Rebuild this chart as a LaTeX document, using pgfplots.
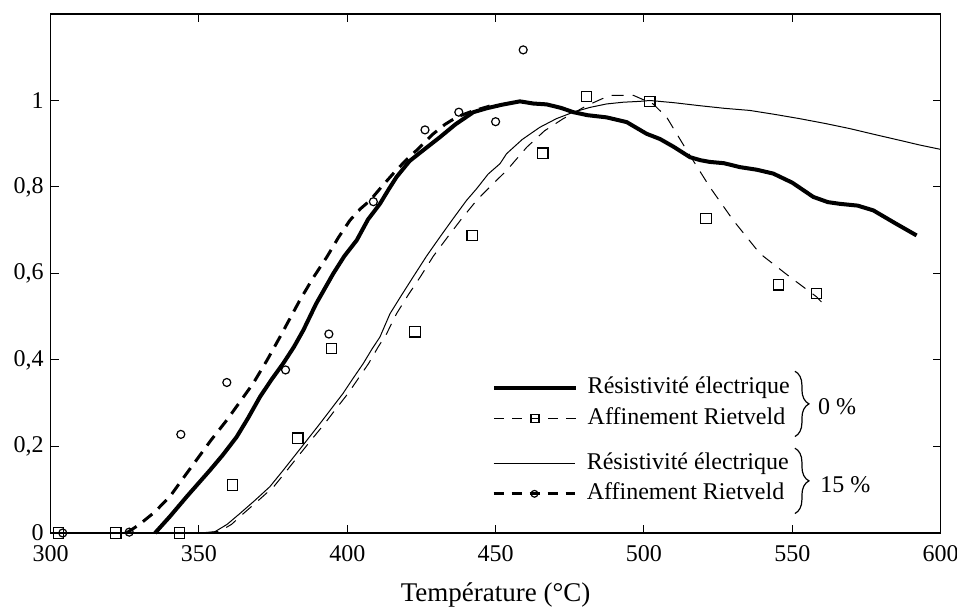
\documentclass[border=0pt]{standalone}
\usepackage{pgfplots}
\pgfplotsset{compat=1.18}
\usepackage{fontspec}
\setmainfont{Liberation Serif}
\usetikzlibrary{decorations.pathreplacing}

\pgfplotstableread{
T y
335.2 0
340.2 0.038
346 0.085
353.7 0.145
358 0.18
362.7 0.222
366.5 0.265
370.6 0.315
374.5 0.355
378.4 0.392
382 0.43
385.2 0.469
389.5 0.53
395.3 0.600
399 0.64
403.2 0.677
407 0.725
411 0.761
414 0.795
416.6 0.823
421 0.86
425.6 0.885
431.2 0.915
436.5 0.945
442.5 0.973
447 0.982
452 0.99
458.2 0.998
462.7 0.993
467.2 0.991
472 0.983
476.2 0.973
481 0.966
487.4 0.961
494.2 0.95
500.9 0.923
505.4 0.911
510 0.893
515.5 0.869
519 0.862
522.2 0.858
527 0.855
532.3 0.846
538 0.840
543.6 0.831
550 0.81
557.1 0.777
562 0.765
566.1 0.761
572 0.757
577.3 0.746
585 0.715
591.9 0.688
}\resZero

\pgfplotstableread{
T y
325.6 0
330 0.02
335 0.048
340.2 0.084
344.5 0.125
349.2 0.169
354 0.214
359.4 0.261
364 0.305
368.3 0.346
373 0.40
377.3 0.453
381 0.5
384 0.538
388.5 0.59
393.1 0.638
397 0.683
400.9 0.723
404.5 0.75
407.7 0.769
411.5 0.8
415.5 0.831
419.5 0.86
423.4 0.885
429 0.923
433 0.945
437 0.962
442 0.975
448 0.987
}\fitQuinze

\pgfplotstableread{
T y
350.4 0
355.4 0.003
359.5 0.02
363.8 0.045
368.8 0.075
373.9 0.107
378.4 0.145
382.9 0.184
386.8 0.218
390.8 0.253
394.7 0.288
398.6 0.323
402 0.358
405.4 0.392
408.3 0.425
411 0.453
414.4 0.507
418.3 0.55
422.2 0.592
426.7 0.64
431.2 0.684
435.7 0.727
440.2 0.769
443.6 0.796
447.5 0.83
451.5 0.854
453.7 0.877
459 0.91
464.9 0.938
470.5 0.958
476.2 0.973
481.8 0.984
487.4 0.992
493 0.996
498.6 0.998
502 1.0
510 0.995
518.8 0.988
527 0.982
535.7 0.977
544 0.968
552.5 0.958
561 0.947
569.4 0.935
578 0.921
586.2 0.908
593 0.897
600 0.887
}\resQuinze

\pgfplotstableread{
T y
352.5 0
357 0.004
361 0.02
365 0.045
370 0.075
375.2 0.107
379.7 0.145
384.2 0.184
388.2 0.218
392.4 0.253
396.3 0.288
400.3 0.323
403.8 0.358
407.2 0.392
410.4 0.43
413.2 0.46
416.6 0.507
420.5 0.55
424.6 0.592
429 0.64
433.8 0.684
438.6 0.727
443.6 0.769
449.2 0.808
453.7 0.838
460.5 0.892
466.5 0.93
472.8 0.958
480.7 0.988
488.5 1.012
496.4 1.012
503.1 0.992
507.7 0.961
514.4 0.885
522.2 0.800
530.1 0.723
539.1 0.646
549.2 0.592
558.2 0.546
560.4 0.530
}\fitZero

\pgfplotstableread{
T y
302.6 0
322 0
343.4 0
361.3 0.111
383.3 0.219
394.7 0.427
422.8 0.465
442.1 0.688
465.9 0.878
480.7 1.009
502 0.998
520.9 0.727
545.3 0.574
558.2 0.554
}\ptsZero

\pgfplotstableread{
T y
304.1 0
326.5 0.002
343.9 0.228
359.4 0.348
379.2 0.377
393.8 0.460
408.8 0.766
426.2 0.932
437.6 0.973
450 0.951
459.3 1.117
}\ptsQuinze

\pgfplotsset{
  frame/.style={
    at={(25.3pt,38.5pt)}, anchor=south west,
    scale only axis, width=445pt, height=259.5pt,
    xmin=300, xmax=600, ymin=0, ymax=1.2,
  },
  mylegend/.style={
    legend style={draw=none, fill=none, inner sep=0pt, anchor=west,
      font=\fontsize{12}{14}\selectfont,
      row sep=4.3pt, column sep=5pt,
      nodes={inner sep=0pt, text height=8.5pt, text depth=2.5pt}},
    legend cell align=left,
    legend image code/.code={\draw[mark repeat=2,mark phase=2,##1] plot coordinates {(0pt,0pt) (20.4pt,0pt) (40.8pt,0pt)};},
  },
  thickres/.style={black, line width=2pt, no marks},
  thinres/.style={black, line width=0.5pt, no marks},
  thickfit/.style={black, line width=1.5pt, dash pattern=on 6pt off 4pt, no marks},
  thinfit/.style={black, line width=0.5pt, dash pattern=on 6pt off 4.5pt, no marks},
}

\begin{document}
\begin{tikzpicture}
\begin{axis}[
  frame, mylegend,
  legend style={at={(axis cs:448.7,0.301)}},
  xtick={300,350,...,600}, ytick={0,0.2,0.4,0.6,0.8,1},
  tick align=inside,
  major tick length=4pt,
  tick style={black, line width=0.5pt},
  axis line style={line width=0.6pt},
  /pgf/number format/assume math mode=true,
  /pgf/number format/use comma,
  /pgf/number format/1000 sep={},
  tick label style={font=\fontsize{12}{14}\selectfont},
  xticklabel style={yshift=-2.5pt},
  xlabel={Température (°C)},
  xlabel style={font=\fontsize{13.5}{16}\selectfont, at={(axis description cs:0.5,0)}, anchor=center, yshift=-31pt},
  clip=false,
]
\addplot[thickres, forget plot] table[x=T,y=y] {\resZero};
\addplot[thinres, forget plot] table[x=T,y=y] {\resQuinze};
\addplot[thickfit, forget plot] table[x=T,y=y] {\fitQuinze};
\addplot[thinfit, forget plot] table[x=T,y=y] {\fitZero};
\addplot[only marks, mark=square, mark size=2.6pt, mark options={line width=0.6pt, fill=white}, forget plot] table[x=T,y=y] {\ptsZero};
\addplot[only marks, mark=o, mark size=2pt, mark options={line width=0.6pt}, forget plot] table[x=T,y=y] {\ptsQuinze};

\addlegendimage{black, line width=2pt}
\addlegendentry{Résistivité électrique}
\addlegendimage{black, line width=0.5pt, dash pattern=on 5pt off 4pt, mark=square, mark size=2pt, mark options={solid, line width=0.6pt, fill=white}}
\addlegendentry{Affinement Rietveld}

\draw[decorate, decoration={brace, amplitude=7pt}, line width=0.6pt] (axis cs:550.9,0.374) -- (axis cs:550.9,0.223);
\draw[decorate, decoration={brace, amplitude=7pt}, line width=0.6pt] (axis cs:550.9,0.196) -- (axis cs:550.9,0.045);
\node[anchor=west, inner sep=0pt, font=\fontsize{12}{14}\selectfont] at (axis cs:558.6,0.292) {0~\%};
\node[anchor=west, inner sep=0pt, font=\fontsize{12}{14}\selectfont] at (axis cs:559.3,0.111) {15~\%};
\end{axis}

\begin{axis}[
  frame, mylegend, hide axis,
  legend style={at={(axis cs:448.7,0.126)}},
]
\addlegendimage{black, line width=0.5pt}
\addlegendentry{Résistivité électrique}
\addlegendimage{black, line width=1.5pt, dash pattern=on 5pt off 4pt, mark=o, mark size=1.7pt, mark options={solid, line width=0.6pt, fill=white}}
\addlegendentry{Affinement Rietveld}
\end{axis}

\pgfresetboundingbox
\path (0,0) rectangle (478.5pt,305pt);
\end{tikzpicture}
\end{document}
